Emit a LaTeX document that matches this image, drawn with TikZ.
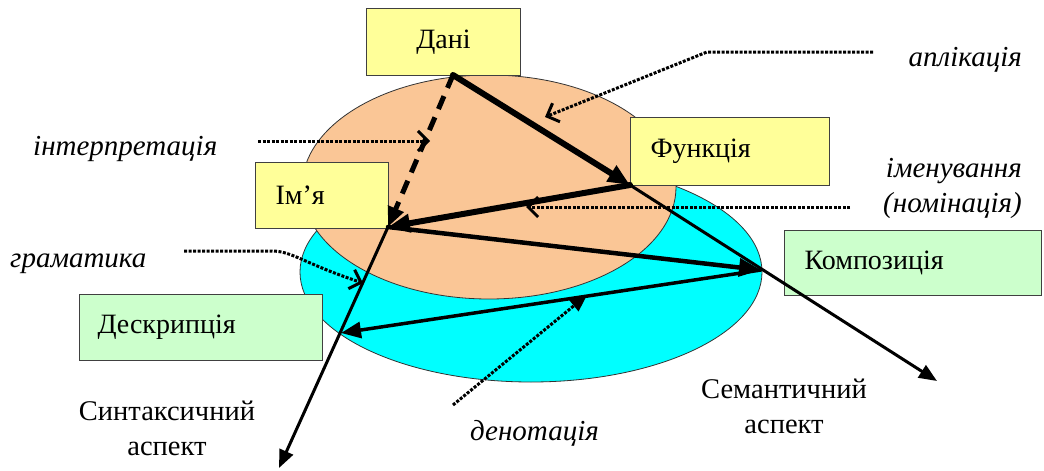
\documentclass[tikz,border=0pt]{standalone}
\usepackage{fontspec}
\setmainfont{Liberation Serif}
\usetikzlibrary{arrows.meta}
\definecolor{peach}{RGB}{250,198,150}
\definecolor{aqua}{RGB}{0,255,255}
\definecolor{paleyellow}{RGB}{255,255,153}
\definecolor{palegreen}{RGB}{204,255,204}

\begin{document}
\begin{tikzpicture}[x=1pt, y=-1pt, line cap=round,
  card/.style={draw=black!75, line width=1pt, inner ysep=0pt, anchor=north west,
    font=\fontsize{28}{30}\selectfont},
  axislabel/.style={align=center, inner sep=0pt, font=\fontsize{28.5}{35}\selectfont},
  remark/.style={inner sep=0pt, font=\itshape\fontsize{29}{35}\selectfont},
  pointer/.style={line width=3pt, line cap=butt, dash pattern=on 3pt off 1.5pt},
  barb/.style={-{Straight Barb[length=10pt,width=20pt,line width=3pt]}},
  head/.style={-{Triangle[length=#1,width=0.8*#1]}}]
  \useasboundingbox (0,0) rectangle (1044,471);
  % ===== the two aspects (ellipses) =====
  \fill[aqua, draw=black!80, line width=0.8pt] (531,272) ellipse [x radius=231, y radius=110];
  \fill[peach, draw=black!80, line width=0.8pt] (489,187) ellipse [x radius=187, y radius=112];
  % ===== boxes =====
  \node[card, fill=paleyellow, minimum width=154pt, minimum height=67pt] (dani) at (366,8) {Дані};
  \node[card, fill=paleyellow, minimum width=199pt, minimum height=68pt, align=left,
    inner xsep=20pt, text width=159pt] (funk) at (630,117) {Функція};
  \node[card, fill=paleyellow, minimum width=133pt, minimum height=66pt, align=left,
    inner xsep=20pt, text width=93pt] (imya) at (255,162) {Ім’я};
  \node[card, fill=palegreen, minimum width=257pt, minimum height=65pt, align=left,
    inner xsep=20pt, text width=217pt] (komp) at (784,230) {Композиція};
  \node[card, fill=palegreen, minimum width=243pt, minimum height=66pt, align=left,
    inner xsep=18pt, text width=207pt] (deskr) at (79,294) {Дескрипція};
  % ===== vertices of the triangle and ends of the axes =====
  \coordinate (vD) at (453,75);
  \coordinate (vF) at (630,185);
  \coordinate (vN) at (388,227);
  \coordinate (vK) at (761,270);
  \coordinate (vS) at (341,333);
  \coordinate (semEnd) at (937,381);
  \coordinate (synEnd) at (279,468);
  % axes
  \draw[line width=3pt, head=18pt] (vF) -- (semEnd);
  \draw[line width=3pt, head=18pt] (vN) -- (synEnd);
  % triangle
  \draw[line width=6pt, head=22pt] (vD) -- (vF);
  \draw[line width=5pt, dash pattern=on 14pt off 9pt, line cap=butt, head=20pt] (vD) -- (vN);
  \draw[line width=6pt, head=22pt] (vF) -- (vN);
  \draw[line width=4.5pt, head=22pt] (vN) -- (vK);
  \draw[line width=3.5pt, head=20pt] (vK) -- (vS);
  % ===== labels =====
  \node[remark, anchor=base east] (aplik) at (1022,66) {аплікація};
  \node[remark, anchor=base west] (interp) at (33,155) {інтерпретація};
  \node[remark, anchor=east, align=right] (imen) at (1022,188) {іменування\\(номінація)};
  \node[remark, anchor=base west] (gram) at (10,267) {граматика};
  \node[remark, anchor=base west] (denot) at (470,440) {денотація};
  \node[axislabel] (synt) at (167,428) {Синтаксичний\\аспект};
  \node[axislabel] (sem) at (784,406) {Семантичний\\аспект};
  % ===== dotted pointers =====
  \coordinate (aplikA) at (873,52);
  \coordinate (aplikB) at (707,52);
  \coordinate (aplikC) at (545,117);
  \draw[pointer, barb] (aplikA) -- (aplikB) -- (aplikC);
  \coordinate (interpA) at (258,141);
  \coordinate (interpB) at (430,141);
  \draw[pointer, barb] (interpA) -- (interpB);
  \coordinate (imenA) at (850,207);
  \coordinate (imenB) at (526,207);
  \draw[pointer, barb] (imenA) -- (imenB);
  \coordinate (gramA) at (184,251);
  \coordinate (gramB) at (272,251);
  \coordinate (gramC) at (363,283);
  \draw[pointer, barb] (gramA) -- (gramB) .. controls (292,251) and (305,264) .. (gramC);
  \coordinate (denotA) at (453,405);
  \coordinate (denotB) at (587,295);
  \draw[pointer, -{Triangle[length=17pt,width=14pt]}] (denotA) -- (denotB);
\end{tikzpicture}
\end{document}
